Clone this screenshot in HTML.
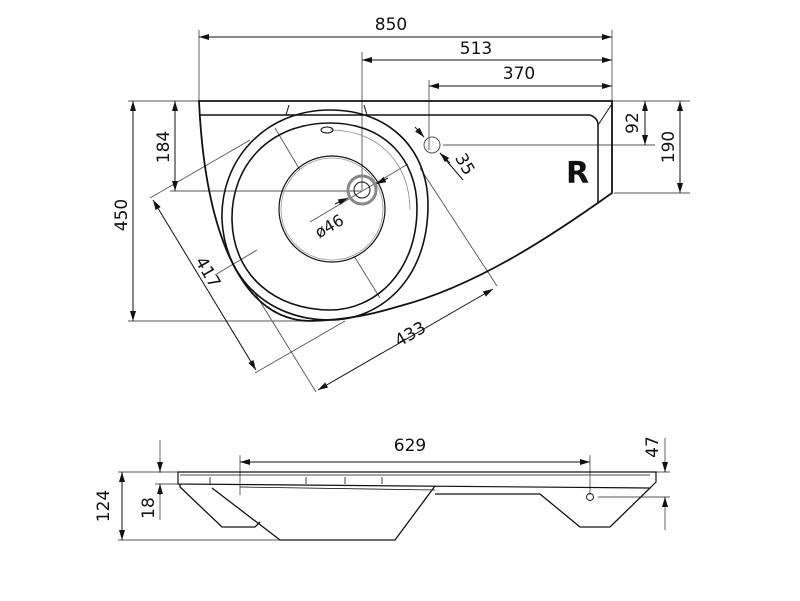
<!DOCTYPE html>
<html><head><meta charset="utf-8"><style>
html,body{margin:0;padding:0;background:#fff;}
svg{display:block;}
text{font-family:"DejaVu Sans","Liberation Sans",sans-serif;fill:#111;}
</style></head><body>
<svg width="800" height="601" viewBox="0 0 800 601" xmlns="http://www.w3.org/2000/svg">
<defs>
<marker id="a" viewBox="0 0 10 6" refX="10" refY="3" markerWidth="10" markerHeight="6" orient="auto-start-reverse" markerUnits="userSpaceOnUse"><path d="M0,0 L10,3 L0,6 z" fill="#111"/></marker>
</defs>
<g fill="none" stroke="#555" stroke-width="0.9">
<!-- top view extension lines -->
<line x1="199" y1="30" x2="199" y2="100"/>
<line x1="612" y1="30" x2="612" y2="100"/>
<line x1="362" y1="52" x2="362" y2="190"/>
<line x1="429" y1="80" x2="429" y2="150"/>
<line x1="612" y1="101" x2="690" y2="101"/>
<line x1="443" y1="145" x2="655" y2="145"/>
<line x1="614" y1="193" x2="690" y2="193"/>
<line x1="170" y1="191" x2="362" y2="191"/>
<line x1="128" y1="101" x2="199" y2="101"/>
<line x1="128" y1="321" x2="305" y2="321"/>
<!-- diagonal ext lines -->
<line x1="150" y1="198" x2="250" y2="140"/>
<line x1="255" y1="373" x2="345" y2="321"/>
<line x1="275" y1="128" x2="300" y2="170"/>
<line x1="257" y1="250" x2="215" y2="275"/>
<line x1="316" y1="392" x2="253" y2="290"/>
<line x1="497" y1="286" x2="420" y2="168"/>
<line x1="354" y1="256" x2="380" y2="298"/>
<line x1="310" y1="222" x2="408" y2="164"/>
</g>
<g stroke="#111" stroke-width="1" fill="none">
<line x1="199" y1="37" x2="612" y2="37" marker-start="url(#a)" marker-end="url(#a)"/>
<line x1="362" y1="60" x2="612" y2="60" marker-start="url(#a)" marker-end="url(#a)"/>
<line x1="429" y1="86" x2="612" y2="86" marker-start="url(#a)" marker-end="url(#a)"/>
<line x1="645" y1="101" x2="645" y2="145" marker-start="url(#a)" marker-end="url(#a)"/>
<line x1="680" y1="101" x2="680" y2="193" marker-start="url(#a)" marker-end="url(#a)"/>
<line x1="175" y1="101" x2="175" y2="191" marker-start="url(#a)" marker-end="url(#a)"/>
<line x1="133" y1="101" x2="133" y2="321" marker-start="url(#a)" marker-end="url(#a)"/>
<line x1="153" y1="200" x2="256" y2="370" marker-start="url(#a)" marker-end="url(#a)"/>
<line x1="318" y1="390" x2="493" y2="289" marker-start="url(#a)" marker-end="url(#a)"/>
<line x1="415" y1="127" x2="424" y2="137" marker-end="url(#a)"/>
<line x1="450" y1="163" x2="440" y2="153" marker-end="url(#a)"/>
<line x1="440" y1="153" x2="463" y2="180"/>
<line x1="335" y1="204" x2="348" y2="198" marker-end="url(#a)"/>
<line x1="388" y1="178" x2="376" y2="184" marker-end="url(#a)"/>
</g>
<!-- top view body -->
<g fill="none" stroke="#111">
<path d="M199,101 L612,101 L612,193 C560,230 480,285 400,306 C370,315 345,320 310,321 C240,320 205,230 199,101 Z" stroke-width="1.8"/>
<path d="M199,115 L590,115 Q598,118 598,125 L598,203" stroke-width="1.5"/>
<path d="M598,125 L612,104" stroke-width="1"/>
<path d="M330,110 C390,110 428,150 428,205 C428,280 380,320 330,320 C270,320 225,280 222,220 C220,160 265,110 330,110 Z" stroke-width="1.6"/>
<path d="M330,123 C385,123 417,160 417,208 C417,272 375,310 330,310 C275,310 233,275 232,220 C231,165 270,123 330,123 Z" stroke-width="1.6"/>
<path d="M330,130 C380,130 410,165 410,210" stroke="#888" stroke-width="0.8"/>
<circle cx="332" cy="209" r="53" stroke-width="1.2"/>
<circle cx="332" cy="209" r="51" stroke="#999" stroke-width="0.8"/>
<circle cx="362" cy="190" r="14" stroke="#888" stroke-width="3"/>
<circle cx="362" cy="190" r="8" stroke-width="1"/>
<circle cx="432" cy="145" r="8" stroke="#555" stroke-width="1"/>
<ellipse cx="327" cy="130" rx="6" ry="3" stroke-width="1"/>
<path d="M286,115 L289,105 M367,115 L364,105" stroke-width="1"/>
</g>
<g font-size="17">
<text x="391" y="30" text-anchor="middle">850</text>
<text x="476" y="54" text-anchor="middle">513</text>
<text x="519" y="79" text-anchor="middle">370</text>
<text transform="translate(638,123) rotate(-90)" text-anchor="middle">92</text>
<text transform="translate(674,147) rotate(-90)" text-anchor="middle">190</text>
<text transform="translate(169,147) rotate(-90)" text-anchor="middle">184</text>
<text transform="translate(127,215) rotate(-90)" text-anchor="middle">450</text>
<text transform="translate(203,275) rotate(60)" text-anchor="middle">417</text>
<text transform="translate(413,339) rotate(-30)" text-anchor="middle">433</text>
<text transform="translate(460,167) rotate(60)" text-anchor="middle">35</text>
<text transform="translate(332,231) rotate(-30)" text-anchor="middle" font-size="16">ø46</text>
<text x="566" y="183" font-size="30" font-weight="bold" font-family="Liberation Sans,sans-serif">R</text>
</g>
<!-- side view -->
<g fill="none" stroke="#555" stroke-width="0.9">
<line x1="160" y1="440" x2="160" y2="473"/>
<line x1="160" y1="492" x2="160" y2="520"/>
<line x1="118" y1="472" x2="180" y2="472"/>
<line x1="118" y1="540" x2="280" y2="540"/>
<line x1="155" y1="484" x2="180" y2="484"/>
<line x1="240" y1="455" x2="240" y2="495"/>
<line x1="590" y1="455" x2="590" y2="495"/>
<line x1="640" y1="472" x2="670" y2="472"/>
<line x1="598" y1="497" x2="670" y2="497"/>
<line x1="665" y1="438" x2="665" y2="466"/>
<line x1="665" y1="503" x2="665" y2="530"/>
</g>
<g stroke="#111" stroke-width="1" fill="none">
<line x1="240" y1="462" x2="590" y2="462" marker-start="url(#a)" marker-end="url(#a)"/>
<line x1="122" y1="472" x2="122" y2="540" marker-start="url(#a)" marker-end="url(#a)"/>
<line x1="160" y1="462" x2="160" y2="472" marker-end="url(#a)"/>
<line x1="160" y1="495" x2="160" y2="484" marker-end="url(#a)"/>
<line x1="665" y1="462" x2="665" y2="472" marker-end="url(#a)"/>
<line x1="665" y1="507" x2="665" y2="497" marker-end="url(#a)"/>
</g>
<g fill="none" stroke="#111" stroke-width="1.3">
<path d="M178,472 L656,472 L656,482 L650,488 L178,484 Z" stroke-width="1.2"/>
<line x1="180" y1="475" x2="650" y2="475" stroke-width="0.8"/>
<path d="M180,484 L180,487 L222,527 L255,527 L260,522"/>
<path d="M212,488 L280,540 L395,540 L435,486"/>
<path d="M435,494 L540,494 L580,527 L610,527 L650,488"/>
<line x1="240" y1="487" x2="435" y2="490" stroke-width="0.8"/>
<path d="M210,477 L210,484 M306,477 L306,484 M345,477 L345,484 M382,477 L382,484" stroke-width="0.8"/>
<circle cx="590" cy="497" r="3.5" stroke-width="0.9"/>
</g>
<g font-size="17">
<text x="410" y="451" text-anchor="middle">629</text>
<text transform="translate(658,447) rotate(-90)" text-anchor="middle">47</text>
<text transform="translate(109,506) rotate(-90)" text-anchor="middle">124</text>
<text transform="translate(154,508) rotate(-90)" text-anchor="middle">18</text>
</g>
</svg>
</body></html>
